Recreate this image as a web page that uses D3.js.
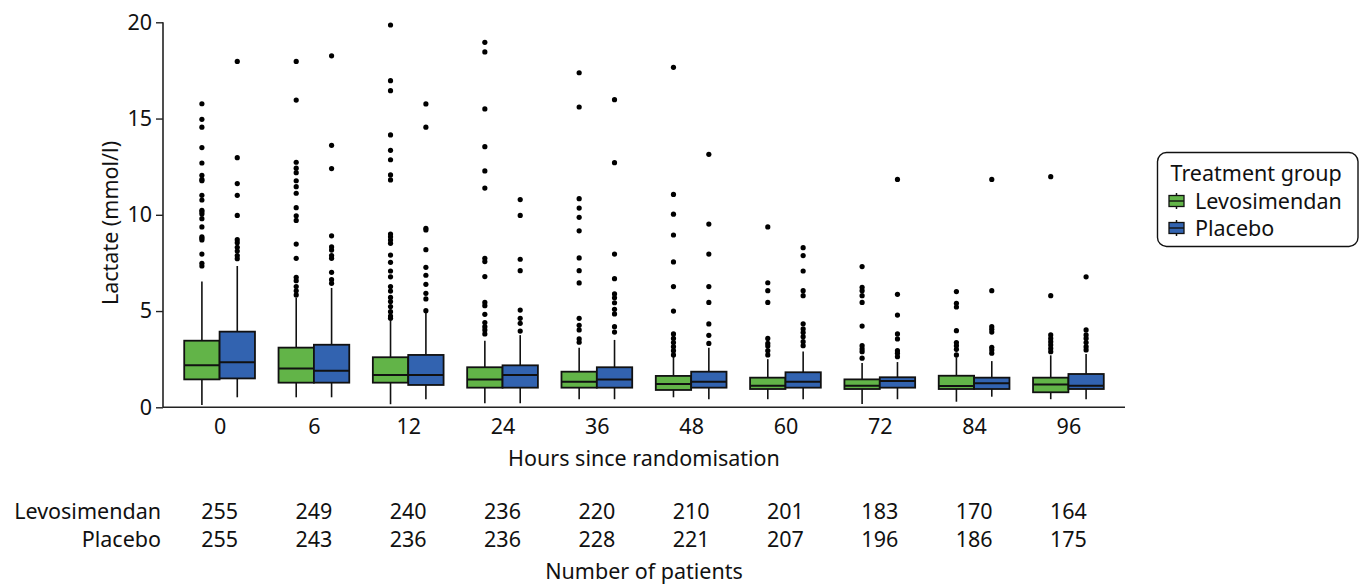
<!DOCTYPE html>
<html>
<head>
<meta charset="utf-8">
<script src="https://cdn.jsdelivr.net/npm/d3@7"></script>
<style>
  html, body { margin: 0; padding: 0; background: #fff; }
  svg { display: block; font-family: "Noto Sans", "Open Sans", sans-serif; }
</style>
</head>
<body>
<svg id="chart" width="1359" height="585"></svg>
<script>
// Time points (hours since randomisation)
const hours = ["0", "6", "12", "24", "36", "48", "60", "72", "84", "96"];

// Number of patients with a lactate measurement at each time point
const levoCounts    = [255, 249, 240, 236, 220, 210, 201, 183, 170, 164];
const placeboCounts = [255, 243, 236, 236, 228, 221, 207, 196, 186, 175];

// Levosimendan box statistics (mmol/l)
const levoLow    = [0.12, 0.52, 0.16, 0.21, 0.42, 0.52, 0.42, 0.17, 0.29, 0.42];
const levoQ1     = [1.45, 1.28, 1.28, 1.02, 1.02, 0.90, 0.95, 0.95, 0.95, 0.78];
const levoMedian = [2.18, 2.01, 1.68, 1.45, 1.33, 1.21, 1.12, 1.12, 1.11, 1.19];
const levoQ3     = [3.46, 3.10, 2.60, 2.08, 1.85, 1.63, 1.54, 1.45, 1.64, 1.54];
const levoHigh   = [6.53, 5.70, 4.50, 3.46, 3.10, 2.63, 2.50, 2.30, 2.60, 2.70];
const levoOutliers = [
  [15.77, 14.96, 14.55, 13.49, 12.69, 12.05, 11.84, 11.77, 11.01, 10.77, 10.23, 10.15, 10.04, 9.80, 9.37, 8.86, 8.78, 8.69, 7.96, 7.48, 7.34],
  [17.97, 15.96, 12.73, 12.42, 12.19, 11.77, 11.46, 11.12, 10.37, 9.95, 9.71, 8.48, 7.74, 6.75, 6.58, 6.27, 6.05, 5.84],
  [19.86, 16.97, 16.45, 14.15, 13.35, 12.86, 12.07, 11.81, 9.00, 8.86, 8.69, 8.52, 7.91, 7.53, 7.08, 6.78, 6.27, 6.04, 5.71, 5.49, 5.23, 4.97, 4.74, 4.62],
  [18.96, 18.46, 15.50, 13.54, 12.28, 11.39, 7.74, 7.57, 6.79, 5.45, 5.28, 4.83, 4.40, 4.19, 4.02, 3.81],
  [17.38, 15.60, 10.84, 10.35, 9.87, 9.17, 7.76, 7.10, 6.46, 4.62, 4.26, 4.02, 3.55, 3.38],
  [17.66, 11.06, 10.03, 8.95, 7.55, 6.27, 5.00, 3.81, 3.58, 3.36, 3.15, 2.94, 2.72],
  [9.37, 6.47, 6.06, 5.45, 3.58, 3.32, 3.18, 2.94, 2.72],
  [7.31, 6.23, 6.06, 5.80, 5.45, 4.22, 3.20, 3.03, 2.89, 2.55],
  [6.01, 5.40, 5.21, 3.98, 3.36, 3.20, 3.01, 2.72],
  [11.98, 5.80, 3.76, 3.58, 3.41, 3.24, 3.06, 2.89]
];

// Placebo box statistics (mmol/l)
const placeboLow    = [0.52, 0.52, 0.42, 0.21, 0.42, 0.42, 0.42, 0.42, 0.55, 0.42];
const placeboQ1     = [1.50, 1.28, 1.16, 1.02, 1.02, 1.02, 1.02, 1.02, 0.95, 0.95];
const placeboMedian = [2.34, 1.90, 1.68, 1.68, 1.45, 1.33, 1.33, 1.37, 1.25, 1.12];
const placeboQ3     = [3.93, 3.25, 2.72, 2.18, 2.08, 1.85, 1.82, 1.56, 1.54, 1.73];
const placeboHigh   = [7.34, 6.20, 4.90, 3.75, 3.50, 3.10, 2.90, 2.35, 2.40, 2.77];
const placeboOutliers = [
  [17.97, 12.97, 11.62, 11.01, 9.97, 8.71, 8.55, 8.31, 8.12, 7.88, 7.72],
  [18.26, 13.61, 12.40, 8.91, 8.33, 8.17, 7.88, 7.74, 7.01, 6.63, 6.44],
  [15.76, 14.55, 9.30, 9.21, 8.19, 7.27, 6.86, 6.39, 5.92, 5.63, 5.02],
  [10.79, 9.97, 7.69, 7.10, 5.05, 4.62, 4.36, 3.96],
  [15.98, 12.71, 7.96, 6.68, 5.89, 5.69, 5.43, 5.09, 4.85, 4.19, 3.91],
  [13.14, 9.52, 7.96, 6.27, 5.45, 4.33, 3.74, 3.32],
  [8.29, 7.88, 7.08, 6.06, 5.80, 4.34, 4.07, 3.88, 3.67, 3.41, 3.20],
  [11.84, 5.87, 4.79, 3.81, 3.55, 2.94, 2.81, 2.63],
  [11.84, 6.06, 4.19, 4.05, 3.91, 3.12, 2.98, 2.81],
  [6.78, 4.02, 3.76, 3.58, 3.36, 3.15, 2.98]
];

const yTicks = [0, 5, 10, 15, 20];
const groupNames = ["Levosimendan", "Placebo"];
const groupColors = ["#62b448", "#3263b0"];

// Assemble per-series box records
function buildSeries(low, q1, med, q3, high, outl) {
  return hours.map((h, i) => ({
    hour: h, low: low[i], q1: q1[i], med: med[i], q3: q3[i], high: high[i], outliers: outl[i]
  }));
}
const series = [
  buildSeries(levoLow, levoQ1, levoMedian, levoQ3, levoHigh, levoOutliers),
  buildSeries(placeboLow, placeboQ1, placeboMedian, placeboQ3, placeboHigh, placeboOutliers)
];

const FS = 21.5;
const svg = d3.select("#chart");
const plotLeft = 163, plotRight = 1125, plotTop = 22.3, plotBottom = 407.3;

const x = d3.scalePoint().domain(hours).range([plotLeft, plotRight]).padding(0.6);
const boxW = x.step() * 0.375;
const sub = d3.scaleBand().domain([0, 1]).range([-boxW, boxW]);
const y = d3.scaleLinear().domain([0, 20]).range([plotBottom, plotTop]);

// Axes
const yAxis = svg.append("g")
  .attr("transform", `translate(${plotLeft},0)`)
  .call(d3.axisLeft(y).tickValues(yTicks).tickSize(7).tickPadding(4).tickSizeOuter(0));
yAxis.select(".domain").attr("stroke", "#222").attr("stroke-width", 1.6).attr("d", `M0,${plotTop}V${plotBottom}`);
yAxis.selectAll(".tick line").attr("stroke", "#222").attr("stroke-width", 1.4);
yAxis.selectAll(".tick text").attr("font-size", FS).attr("fill", "#111")
  .attr("font-family", "'Noto Sans', sans-serif");

const xAxis = svg.append("g")
  .attr("transform", `translate(0,${plotBottom})`)
  .call(d3.axisBottom(x).tickSize(0).tickPadding(11).tickSizeOuter(0));
xAxis.select(".domain").attr("stroke", "#222").attr("stroke-width", 1.6).attr("d", `M${plotLeft},0H${plotRight}`);
xAxis.selectAll(".tick text").attr("font-size", FS).attr("fill", "#111")
  .attr("font-family", "'Noto Sans', sans-serif");

// Axis titles
svg.append("text")
  .attr("transform", `translate(118,223) rotate(-90)`)
  .attr("text-anchor", "middle").attr("font-size", FS).attr("fill", "#111")
  .text("Lactate (mmol/l)");
svg.append("text")
  .attr("x", (plotLeft + plotRight) / 2).attr("y", 465.7)
  .attr("text-anchor", "middle").attr("font-size", FS).attr("fill", "#111")
  .text("Hours since randomisation");

// Boxplots
series.forEach((data, si) => {
  const g = svg.append("g").attr("class", "series-" + si);
  const cx = d => x(d.hour) + sub(si) + sub.bandwidth() / 2;
  const x0 = d => x(d.hour) + sub(si);

  // whiskers
  g.selectAll("line.whisker-up").data(data).join("line")
    .attr("x1", cx).attr("x2", cx)
    .attr("y1", d => y(d.q3)).attr("y2", d => y(d.high))
    .attr("stroke", "#111").attr("stroke-width", 1.6);
  g.selectAll("line.whisker-down").data(data).join("line")
    .attr("x1", cx).attr("x2", cx)
    .attr("y1", d => y(d.q1)).attr("y2", d => y(d.low))
    .attr("stroke", "#111").attr("stroke-width", 1.6);

  // boxes
  g.selectAll("rect").data(data).join("rect")
    .attr("x", x0).attr("width", sub.bandwidth())
    .attr("y", d => y(d.q3)).attr("height", d => y(d.q1) - y(d.q3))
    .attr("fill", groupColors[si]).attr("stroke", "#111").attr("stroke-width", 1.8);

  // medians
  g.selectAll("line.median").data(data).join("line")
    .attr("x1", x0).attr("x2", d => x0(d) + sub.bandwidth())
    .attr("y1", d => y(d.med)).attr("y2", d => y(d.med))
    .attr("stroke", "#111").attr("stroke-width", 2);

  // outliers
  data.forEach(d => {
    g.selectAll(null).data(d.outliers).join("circle")
      .attr("cx", cx(d)).attr("cy", v => y(v)).attr("r", 2.6)
      .attr("fill", "#000");
  });
});

// Patient counts below the axis
const countRows = [levoCounts, placeboCounts];
const rowY = [519.3, 547.3];
countRows.forEach((counts, ri) => {
  svg.append("text")
    .attr("x", 161).attr("y", rowY[ri]).attr("text-anchor", "end")
    .attr("font-size", FS).attr("fill", "#111").text(groupNames[ri]);
  svg.selectAll(null).data(counts).join("text")
    .attr("x", (c, i) => x(hours[i])).attr("y", rowY[ri])
    .attr("text-anchor", "middle").attr("font-size", FS).attr("fill", "#111")
    .text(c => c);
});
svg.append("text")
  .attr("x", (plotLeft + plotRight) / 2).attr("y", 578.5)
  .attr("text-anchor", "middle").attr("font-size", FS).attr("fill", "#111")
  .text("Number of patients");

// Legend
const lg = svg.append("g").attr("transform", "translate(1157.5,152.5)");
lg.append("rect").attr("x", 0).attr("y", 0).attr("width", 200.5).attr("height", 94)
  .attr("rx", 9).attr("fill", "#fff").attr("stroke", "#111").attr("stroke-width", 1.4);
lg.append("text").attr("x", 13).attr("y", 28.5).attr("font-size", FS).attr("fill", "#111")
  .text("Treatment group");
groupNames.forEach((name, i) => {
  const iy = 48.5 + i * 27;
  const item = lg.append("g").attr("transform", `translate(11,${iy})`);
  item.append("line").attr("x1", 8).attr("x2", 8).attr("y1", -8).attr("y2", 8)
    .attr("stroke", "#111").attr("stroke-width", 1.5);
  item.append("rect").attr("x", 0.5).attr("y", -5.5).attr("width", 15).attr("height", 11)
    .attr("fill", groupColors[i]).attr("stroke", "#111").attr("stroke-width", 1.3);
  item.append("line").attr("x1", 0.5).attr("x2", 15.5).attr("y1", 0).attr("y2", 0)
    .attr("stroke", "#111").attr("stroke-width", 1.4);
  item.append("text").attr("x", 26.5).attr("y", 7.5).attr("font-size", FS).attr("fill", "#111")
    .text(name);
});
</script>
</body>
</html>
